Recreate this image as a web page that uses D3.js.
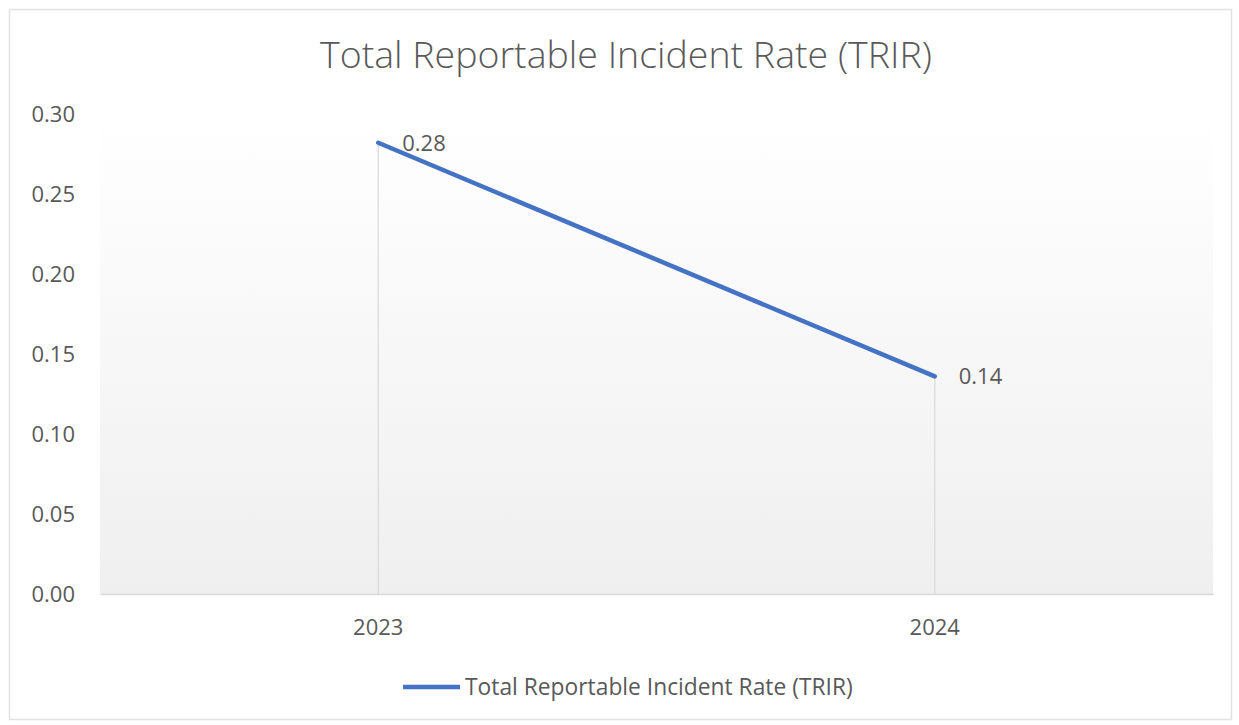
<!DOCTYPE html>
<html>
<head>
<meta charset="utf-8">
<script src="https://cdn.jsdelivr.net/npm/d3@7"></script>
<style>
  body { margin: 0; background: #fff; }
  text { font-family: "Open Sans", "Noto Sans", sans-serif; fill: #595959; }
</style>
</head>
<body>
<div id="chart"></div>
<script>
// Chart data
const years = ["2023", "2024"];
const trirValues = [0.282, 0.136];
const yTicks = [0, 0.05, 0.10, 0.15, 0.20, 0.25, 0.30];
const seriesName = "Total Reportable Incident Rate (TRIR)";
const chartTitle = "Total Reportable Incident Rate (TRIR)";

const width = 1239;
const height = 725;
const margin = {top: 114, right: 26, bottom: 131, left: 100};

const svg = d3.select("#chart")
    .append("svg")
    .attr("width", width)
    .attr("height", height);

// Outer frame
svg.append("rect")
    .attr("x", 9.5)
    .attr("y", 9.5)
    .attr("width", 1222)
    .attr("height", 710)
    .attr("fill", "#fff")
    .attr("stroke", "#e2e2e2")
    .attr("stroke-width", 1.5);

// Plot background gradient
const defs = svg.append("defs");
const grad = defs.append("linearGradient")
    .attr("id", "plotGrad")
    .attr("x1", 0).attr("y1", 0)
    .attr("x2", 0).attr("y2", 1);
grad.append("stop").attr("offset", "0%").attr("stop-color", "#ffffff");
grad.append("stop").attr("offset", "100%").attr("stop-color", "#efefef");

const x = d3.scaleBand()
    .domain(years)
    .range([margin.left, width - margin.right]);

const y = d3.scaleLinear()
    .domain([0, 0.30])
    .range([height - margin.bottom, margin.top]);

svg.append("rect")
    .attr("x", margin.left)
    .attr("y", margin.top)
    .attr("width", width - margin.left - margin.right)
    .attr("height", height - margin.top - margin.bottom)
    .attr("fill", "url(#plotGrad)");

// Title
svg.append("text")
    .attr("x", 626)
    .attr("y", 68)
    .attr("text-anchor", "middle")
    .style("font-size", "37.5px")
    .style("font-weight", 300)
    .text(chartTitle);

// Y axis
const yAxis = d3.axisLeft(y)
    .tickValues(yTicks)
    .tickFormat(d3.format(".2f"))
    .tickSize(0)
    .tickPadding(25);

const yAxisG = svg.append("g")
    .attr("transform", `translate(${margin.left},0)`)
    .call(yAxis);
yAxisG.select(".domain").remove();
yAxisG.selectAll("text")
    .style("font-size", "22px")
    .attr("fill", "#595959");

// X axis
const xAxis = d3.axisBottom(x)
    .tickSize(0)
    .tickPadding(25);

const xAxisG = svg.append("g")
    .attr("transform", `translate(0,${height - margin.bottom})`)
    .call(xAxis);
xAxisG.select(".domain")
    .attr("stroke", "#d9d9d9")
    .attr("stroke-width", 1.5);
xAxisG.selectAll("text")
    .style("font-size", "22px")
    .attr("fill", "#595959");

const cx = d => x(d) + x.bandwidth() / 2;

// Drop lines
svg.selectAll(".drop")
    .data(years)
    .join("line")
    .attr("class", "drop")
    .attr("x1", d => cx(d))
    .attr("x2", d => cx(d))
    .attr("y1", (d, i) => y(trirValues[i]))
    .attr("y2", y(0))
    .attr("stroke", "#d9d9d9")
    .attr("stroke-width", 1.2);

// Series line
const line = d3.line()
    .x((d, i) => cx(years[i]))
    .y(d => y(d));

svg.append("path")
    .datum(trirValues)
    .attr("d", line)
    .attr("fill", "none")
    .attr("stroke", "#4472C4")
    .attr("stroke-width", 4.5)
    .attr("stroke-linecap", "round");

// Data labels
svg.selectAll(".value-label")
    .data(trirValues)
    .join("text")
    .attr("class", "value-label")
    .attr("x", (d, i) => cx(years[i]) + 24)
    .attr("y", d => y(d))
    .attr("dy", "0.35em")
    .style("font-size", "22px")
    .text(d => d3.format(".2f")(d));

// Legend
svg.append("line")
    .attr("x1", 403)
    .attr("x2", 460)
    .attr("y1", 687)
    .attr("y2", 687)
    .attr("stroke", "#4472C4")
    .attr("stroke-width", 4.5);

svg.append("text")
    .attr("x", 465)
    .attr("y", 687)
    .attr("dy", "0.35em")
    .style("font-size", "22.8px")
    .text(seriesName);
</script>
</body>
</html>
